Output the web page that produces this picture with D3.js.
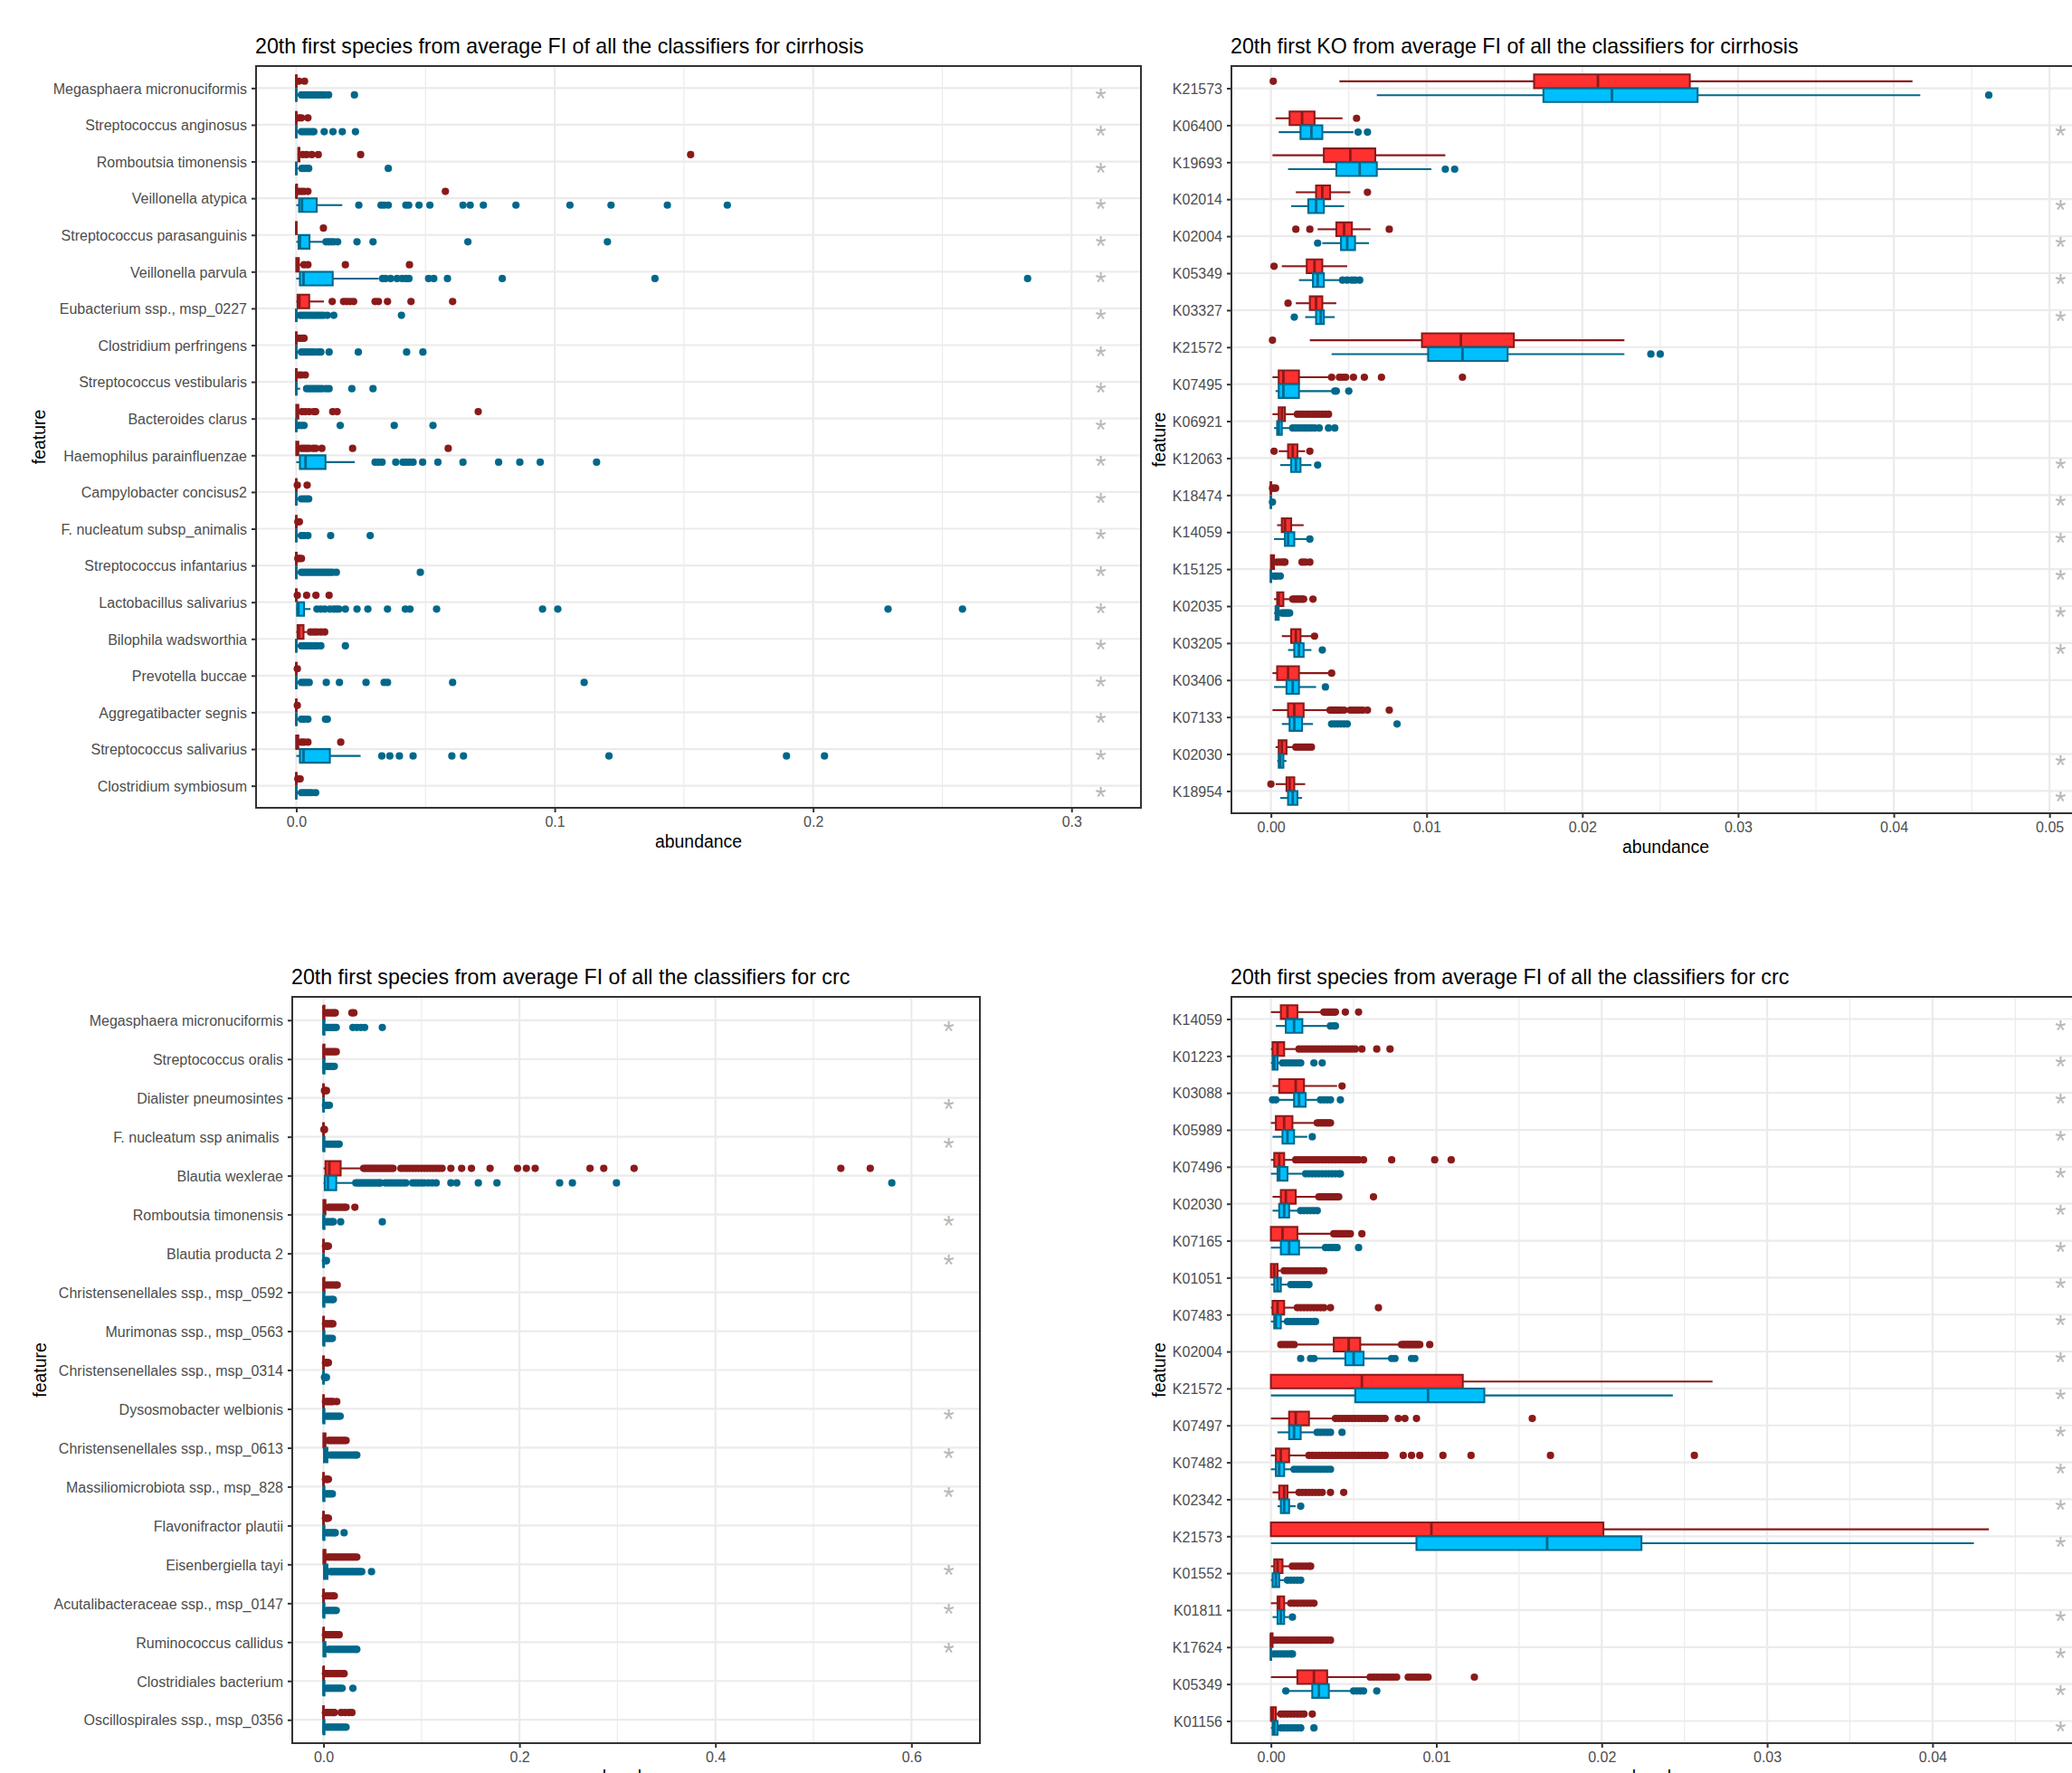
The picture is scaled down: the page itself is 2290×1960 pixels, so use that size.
<!DOCTYPE html>
<html>
<head>
<meta charset="utf-8">
<script src="https://cdn.jsdelivr.net/npm/d3@7"></script>
<style>
  body { margin: 0; background: #ffffff; }
  svg text { font-family: "Liberation Sans", Arial, Helvetica, sans-serif; }
</style>
</head>
<body>
<svg id="fig" width="2290" height="1960"></svg>
<script>
// Box statistics are [lower whisker, Q1, median, Q3, upper whisker];
// group A is drawn red (upper box), group B blue (lower box).

// ---- cirrhosis, species ----
const cirSpTitle = "20th first species from average FI of all the classifiers for cirrhosis";
const cirSpFeatures = ["Megasphaera micronuciformis","Streptococcus anginosus","Romboutsia timonensis","Veillonella atypica","Streptococcus parasanguinis","Veillonella parvula","Eubacterium ssp., msp_0227","Clostridium perfringens","Streptococcus vestibularis","Bacteroides clarus","Haemophilus parainfluenzae","Campylobacter concisus2","F. nucleatum subsp_animalis","Streptococcus infantarius","Lactobacillus salivarius","Bilophila wadsworthia","Prevotella buccae","Aggregatibacter segnis","Streptococcus salivarius","Clostridium symbiosum"];
const cirSpSig = [1,1,1,1,1,1,1,1,1,1,1,1,1,1,1,1,1,1,1,1];
const cirSpTicks = [0, 0.1, 0.2, 0.3];
const cirSpA = [
  [0,0,0,0,0.0005],[0,0,0,0,0.0005],[0.0005,0.0008,0.001,0.0012,0.0015],[0,0,0,0.0003,0.0005],[0,0,0,0,0],
  [0,0,0.0003,0.001,0.002],[0,0.0005,0.0012,0.005,0.0107],[0,0,0,0,0.0003],[0,0,0,0,0.0003],[0,0,0.0003,0.0008,0.0015],
  [0,0,0.0003,0.0008,0.0015],[0,0,0,0,0],[0,0,0,0,0],[0,0,0,0,0],[0,0,0,0,0],
  [0,0.0005,0.001,0.0028,0.004],[0,0,0,0,0],[0,0,0,0,0],[0,0,0.0002,0.0008,0.0015],[0,0,0,0,0]
];
const cirSpAOut = [
  [0.001,0.0032],
  [0.001,0.002,0.0045],
  [0.0025,0.004,0.006,0.0085,0.0249,0.1526],
  [0.001,0.002,0.003,0.0045,0.0577],
  [0.0105],
  [0.003,0.0045,0.019,0.0438],
  [0.0139,0.0183,0.0195,0.0208,0.0222,0.0305,0.0318,0.0353,0.0444,0.0605],
  [0.001,0.0022,0.003],
  [0.001,0.002,0.0035],
  [0.0022,0.0035,0.005,0.0068,0.0075,0.0141,0.0158,0.0704],
  [0.002,0.003,0.004,0.005,0.0065,0.0075,0.0099,0.0218,0.0588],
  [0.0004,0.0042],
  [0.0006,0.0012],
  [0.0006,0.0012,0.002],
  [0.0004,0.004,0.0076,0.0127],
  [0.0055,0.0068,0.008,0.0095,0.011],
  [0.0004],
  [0.0004],
  [0.002,0.003,0.0045,0.0172],
  [0.0006,0.0015]
];
const cirSpB = [
  [0,0,0,0,0.001],[0,0,0,0,0.001],[0,0,0,0,0.0008],[0,0.0011,0.0022,0.0079,0.0178],[0,0.0009,0.0014,0.0051,0.0107],
  [0,0.0014,0.0028,0.0141,0.0319],[0,0,0,0,0.001],[0,0,0,0,0.001],[0,0,0,0,0.0015],[0,0,0,0,0.0005],
  [0,0.0014,0.0036,0.0113,0.0226],[0,0,0,0,0.001],[0,0,0,0,0.001],[0,0,0,0,0.001],[0,0.0003,0.0008,0.003,0.0055],
  [0,0,0,0,0.0012],[0,0,0,0,0.001],[0,0,0,0,0.001],[0,0.0014,0.0028,0.013,0.0249],[0,0,0,0,0.001]
];
const cirSpBOut = [
  [0.002,0.003,0.004,0.005,0.006,0.007,0.008,0.009,0.01,0.011,0.0125,0.0225],
  [0.002,0.003,0.004,0.005,0.006,0.0068,0.0108,0.0142,0.0178,0.0229],
  [0.0022,0.003,0.004,0.0048,0.0356],
  [0.0242,0.0328,0.034,0.0356,0.0424,0.0435,0.0475,0.0517,0.0645,0.0673,0.0724,0.085,0.1059,0.1218,0.1436,0.1668],
  [0.0115,0.0125,0.0135,0.0145,0.016,0.0235,0.0297,0.0664,0.1204],
  [0.0334,0.0345,0.0365,0.039,0.041,0.0425,0.0436,0.0512,0.0532,0.0585,0.0797,0.1388,0.283],
  [0.0015,0.0025,0.0035,0.0045,0.0055,0.0065,0.0075,0.0085,0.0095,0.0105,0.012,0.0145,0.0407],
  [0.002,0.003,0.004,0.005,0.006,0.007,0.0085,0.0095,0.0127,0.024,0.0427,0.049],
  [0.004,0.005,0.006,0.007,0.008,0.009,0.01,0.0115,0.0127,0.0215,0.0297],
  [0.001,0.002,0.003,0.017,0.0379,0.0529],
  [0.0305,0.0318,0.0332,0.0385,0.0413,0.0425,0.0438,0.0452,0.0489,0.0548,0.0645,0.0783,0.0865,0.0944,0.1162],
  [0.002,0.003,0.004,0.0048],
  [0.002,0.003,0.0045,0.0133,0.0286],
  [0.002,0.003,0.004,0.005,0.006,0.007,0.008,0.009,0.01,0.011,0.012,0.013,0.014,0.0155,0.048],
  [0.008,0.0095,0.011,0.013,0.0145,0.0155,0.0165,0.019,0.0235,0.0277,0.0353,0.0422,0.044,0.0543,0.0953,0.1012,0.229,0.2578],
  [0.002,0.003,0.004,0.005,0.006,0.007,0.008,0.0095,0.019],
  [0.002,0.003,0.004,0.005,0.0116,0.0167,0.027,0.034,0.0353,0.0605,0.1114],
  [0.002,0.003,0.0045,0.0113,0.012],
  [0.0331,0.0362,0.0399,0.0452,0.0602,0.0647,0.121,0.1897,0.2044],
  [0.002,0.003,0.004,0.005,0.006,0.0075]
];

// ---- cirrhosis, KO ----
const cirKoTitle = "20th first KO from average FI of all the classifiers for cirrhosis";
const cirKoFeatures = ["K21573","K06400","K19693","K02014","K02004","K05349","K03327","K21572","K07495","K06921","K12063","K18474","K14059","K15125","K02035","K03205","K03406","K07133","K02030","K18954"];
const cirKoSig = [0,1,0,1,1,1,1,0,0,0,1,1,1,1,1,1,0,0,1,1];
const cirKoTicks = [0, 0.01, 0.02, 0.03, 0.04, 0.05];
const cirKoA = [
  [0.0044,0.0169,0.021,0.0269,0.0412],[0.0003,0.0012,0.002,0.0028,0.0046],[0.0001,0.0034,0.0051,0.0067,0.0112],
  [0.0016,0.0029,0.0033,0.0038,0.0051],[0.003,0.0042,0.0047,0.0052,0.0064],[0.0007,0.0023,0.0028,0.0033,0.0049],
  [0.0016,0.0025,0.0029,0.0033,0.0042],[0.0025,0.0097,0.0122,0.0156,0.0227],[0.0001,0.0005,0.0008,0.0018,0.0038],
  [0.0001,0.0005,0.0007,0.0009,0.0016],[0.0005,0.0011,0.0014,0.0017,0.0022],[0,0,0,0,0],
  [0.0004,0.0007,0.0009,0.0013,0.0021],[0,0,0.0001,0.0002,0.0003],[0.0002,0.0004,0.0005,0.0008,0.0013],
  [0.0007,0.0013,0.0016,0.0019,0.0026],[0.0001,0.0004,0.0011,0.0018,0.0037],[0.0001,0.0011,0.0015,0.0021,0.0037],
  [0.0003,0.0005,0.0007,0.001,0.0015],[0.0003,0.001,0.0012,0.0015,0.0022]
];
const cirKoAOut = [
  [0.00015],[0.0055],[],[0.0062],[0.0016,0.0025,0.0076],[0.0002],[0.0011],[0.0001],
  [0.0039,0.0044,0.0046,0.0048,0.0053,0.006,0.0071,0.0123],
  [0.0017,0.0019,0.0021,0.0023,0.0025,0.0027,0.0029,0.0031,0.0033,0.0035,0.0037],
  [0.0002,0.0025],[0.0001,0.0002,0.0003],[],
  [0.0004,0.0006,0.0008,0.0009,0.002,0.0022,0.0025],
  [0.0014,0.0015,0.0016,0.0017,0.0018,0.0019,0.002,0.0021,0.0027],
  [0.0028],[0.0039],
  [0.0038,0.0039,0.004,0.0041,0.0042,0.0043,0.0044,0.0045,0.0047,0.0051,0.0053,0.0055,0.0057,0.0059,0.0062,0.0076],
  [0.0016,0.0018,0.002,0.0022,0.0024,0.0026],
  [0]
];
const cirKoB = [
  [0.0068,0.0175,0.0219,0.0274,0.0417],[0.0005,0.0019,0.0026,0.0033,0.0053],[0.0011,0.0042,0.0057,0.0068,0.0103],
  [0.0013,0.0024,0.0029,0.0034,0.0047],[0.0033,0.0045,0.0049,0.0054,0.0063],[0.0018,0.0027,0.003,0.0034,0.0044],
  [0.0022,0.0029,0.0032,0.0034,0.0041],[0.0039,0.0101,0.0123,0.0152,0.0227],[0.0003,0.0005,0.0008,0.0018,0.0039],
  [0.0002,0.0004,0.0005,0.0007,0.0012],[0.0006,0.0013,0.0016,0.0019,0.0026],[0,0,0,0,0],
  [0.0002,0.0009,0.0011,0.0015,0.0023],[0,0,0,0,0.0001],[0.0002,0.0003,0.0004,0.0005,0.0006],
  [0.0011,0.0015,0.0018,0.0021,0.0026],[0.0002,0.001,0.0014,0.0018,0.0029],[0.0007,0.0012,0.0015,0.002,0.0027],
  [0.0004,0.0005,0.0006,0.0008,0.001],[0.0006,0.0011,0.0014,0.0017,0.002]
];
const cirKoBOut = [
  [0.0461],[0.0056,0.0062],[0.0112,0.0118],[],[0.003],[0.0046,0.0049,0.0052,0.0054,0.0057],[0.0015],[0.0244,0.025],
  [0.0041,0.0042,0.005],
  [0.0014,0.0016,0.0018,0.002,0.0022,0.0024,0.0026,0.0028,0.0031,0.0037,0.0041],
  [0.003],[0.0001],[0.0025],[0.0002,0.0003,0.0004,0.0006],
  [0.0007,0.0008,0.0009,0.001,0.0011,0.0012],
  [0.0033],[0.0035],[0.0039,0.0041,0.0043,0.0045,0.0047,0.0049,0.0081],[],[]
];

// ---- crc, species ----
const crcSpTitle = "20th first species from average FI of all the classifiers for crc";
const crcSpFeatures = ["Megasphaera micronuciformis","Streptococcus oralis","Dialister pneumosintes","F. nucleatum ssp animalis ","Blautia wexlerae","Romboutsia timonensis","Blautia producta 2","Christensenellales ssp., msp_0592","Murimonas ssp., msp_0563","Christensenellales ssp., msp_0314","Dysosmobacter welbionis","Christensenellales ssp., msp_0613","Massiliomicrobiota ssp., msp_828","Flavonifractor plautii","Eisenbergiella tayi","Acutalibacteraceae ssp., msp_0147","Ruminococcus callidus","Clostridiales bacterium","Oscillospirales ssp., msp_0356"];
const crcSpSig = [1,0,1,1,0,1,1,0,0,0,1,1,1,0,1,1,1,0,0];
const crcSpTicks = [0, 0.2, 0.4, 0.6];
const crcSpA = [
  [0,0,0,0.001,0.002],[0,0,0,0.001,0.002],[0,0,0,0,0.0005],[0,0,0,0,0],[0,0.002,0.006,0.0175,0.039],
  [0,0,0.0005,0.002,0.004],[0,0,0,0,0.001],[0,0,0,0.001,0.002],[0,0,0,0.0005,0.0015],[0,0,0,0,0.001],
  [0,0,0,0,0.001],[0,0,0.0005,0.002,0.004],[0,0,0,0,0.001],[0,0,0,0,0.001],[0,0,0.0005,0.002,0.003],
  [0,0,0,0,0.001],[0,0,0,0.0005,0.0015],[0,0,0,0.0005,0.0015],[0,0,0,0,0.001]
];
const crcSpAOut = [
  [0.003,0.005,0.007,0.009,0.011,0.012,0.029,0.031],
  [0.003,0.005,0.007,0.009,0.011,0.013],
  [0.001,0.002,0.003],
  [0.0005,0.001],
  [0.041,0.043,0.045,0.047,0.049,0.051,0.053,0.055,0.057,0.059,0.061,0.063,0.065,0.067,0.069,0.071,
   0.079,0.082,0.085,0.088,0.091,0.094,0.097,0.1,0.103,0.106,0.109,0.112,0.115,0.118,0.121,
   0.13,0.141,0.151,0.17,0.198,0.207,0.216,0.272,0.286,0.317,0.528,0.558],
  [0.005,0.007,0.009,0.011,0.013,0.015,0.017,0.019,0.021,0.023,0.032],
  [0.002,0.003,0.004,0.005],
  [0.003,0.005,0.007,0.009,0.011,0.013,0.014],
  [0.002,0.004,0.006,0.008,0.0095],
  [0.002,0.003,0.004,0.005],
  [0.002,0.004,0.006,0.008,0.0095,0.0135],
  [0.005,0.007,0.009,0.011,0.013,0.015,0.017,0.019,0.021,0.023],
  [0.002,0.003,0.004,0.005],
  [0.002,0.003,0.004,0.005],
  [0.004,0.006,0.008,0.01,0.012,0.014,0.016,0.018,0.02,0.022,0.024,0.026,0.028,0.03,0.032,0.034],
  [0.002,0.004,0.006,0.008,0.01,0.011],
  [0.002,0.004,0.006,0.008,0.01,0.012,0.014,0.016],
  [0.002,0.004,0.006,0.008,0.01,0.012,0.014,0.016,0.018,0.02,0.021],
  [0.002,0.004,0.006,0.008,0.01,0.011,0.018,0.022,0.026,0.029]
];
const crcSpB = [
  [0,0,0,0.001,0.002],[0,0,0,0.001,0.002],[0,0,0,0,0.001],[0,0,0,0.001,0.002],[0,0.0013,0.0045,0.013,0.031],
  [0,0,0,0.001,0.002],[0,0,0,0,0.001],[0,0,0,0.001,0.002],[0,0,0,0.001,0.002],[0,0,0,0,0.0005],
  [0,0,0,0.001,0.002],[0,0.0005,0.002,0.004,0.006],[0,0,0,0.001,0.002],[0,0,0,0.001,0.002],[0,0.0005,0.002,0.004,0.006],
  [0,0,0,0.001,0.002],[0,0,0.0005,0.002,0.004],[0,0,0,0.001,0.002],[0,0,0,0.001,0.002]
];
const crcSpBOut = [
  [0.003,0.005,0.007,0.009,0.011,0.013,0.03,0.034,0.038,0.042,0.06],
  [0.003,0.005,0.007,0.009,0.011],
  [0.002,0.004,0.006],
  [0.003,0.005,0.007,0.009,0.011,0.013,0.015,0.016],
  [0.033,0.035,0.037,0.039,0.041,0.043,0.045,0.047,0.049,0.051,0.053,0.055,0.057,0.058,
   0.063,0.066,0.069,0.072,0.075,0.078,0.081,0.084,0.091,0.094,0.097,0.1,0.103,0.107,0.111,0.115,
   0.13,0.136,0.158,0.177,0.241,0.254,0.299,0.58],
  [0.003,0.005,0.007,0.009,0.01,0.0175,0.06],
  [0.002,0.003],
  [0.003,0.005,0.007,0.009,0.01],
  [0.003,0.005,0.007,0.009],
  [0.001,0.002,0.003],
  [0.003,0.005,0.007,0.009,0.011,0.013,0.015,0.017],
  [0.007,0.009,0.011,0.013,0.015,0.017,0.019,0.021,0.023,0.025,0.027,0.029,0.031,0.033,0.034],
  [0.003,0.005,0.007,0.009],
  [0.003,0.005,0.007,0.009,0.011,0.012,0.021],
  [0.007,0.009,0.011,0.013,0.015,0.017,0.019,0.021,0.023,0.025,0.027,0.029,0.031,0.033,0.035,0.037,0.039,0.049],
  [0.003,0.005,0.007,0.009,0.011,0.013],
  [0.005,0.007,0.009,0.011,0.013,0.015,0.017,0.019,0.021,0.023,0.025,0.027,0.029,0.031,0.033,0.034],
  [0.003,0.005,0.007,0.009,0.011,0.013,0.015,0.017,0.019,0.03],
  [0.003,0.005,0.007,0.009,0.011,0.013,0.015,0.017,0.019,0.021,0.023]
];

// ---- crc, KO ----
const crcKoTitle = "20th first species from average FI of all the classifiers for crc";
const crcKoFeatures = ["K14059","K01223","K03088","K05989","K07496","K02030","K07165","K01051","K07483","K02004","K21572","K07497","K07482","K02342","K21573","K01552","K01811","K17624","K05349","K01156"];
const crcKoSig = [1,1,1,1,1,1,1,1,1,1,1,1,1,1,1,0,1,1,1,1];
const crcKoTicks = [0, 0.01, 0.02, 0.03, 0.04];
const crcKoA = [
  [0,0.0006,0.001,0.0016,0.0031],[0,0.0001,0.0004,0.0008,0.0015],[0.0001,0.0005,0.0015,0.002,0.004],
  [0,0.0003,0.0008,0.0013,0.0027],[0,0.0002,0.0005,0.0008,0.0014],[0.0001,0.0006,0.0009,0.0015,0.0028],
  [0,0,0.0007,0.0016,0.0037],[0,0,0.0002,0.0004,0.0006],[0,0.0001,0.0004,0.0008,0.0015],
  [0.0015,0.0038,0.0047,0.0054,0.0078],[0,0,0.0055,0.0116,0.0267],[0,0.0011,0.0015,0.0023,0.0038],
  [0,0.0003,0.0006,0.0011,0.0022],[0.0001,0.0005,0.0008,0.001,0.0016],[0,0,0.0097,0.0201,0.0434],
  [0,0.0002,0.0004,0.0007,0.0012],[0,0.0004,0.0005,0.0008,0.0011],[0,0,0,0.0001,0.0001],
  [0,0.0016,0.0026,0.0034,0.0059],[0,0,0.0001,0.0003,0.0004]
];
const crcKoAOut = [
  [0.0032,0.0033,0.0034,0.0035,0.0036,0.0037,0.0038,0.0039,0.0045,0.0053],
  [0.0017,0.0019,0.0021,0.0023,0.0025,0.0027,0.0029,0.0031,0.0033,0.0035,0.0037,0.0039,0.0041,0.0043,0.0045,0.0047,0.0049,0.0051,0.0055,0.0064,0.0072],
  [0.0043],
  [0.0028,0.0029,0.003,0.0031,0.0032,0.0033,0.0034,0.0035,0.0036],
  [0.0015,0.0017,0.0019,0.0021,0.0023,0.0025,0.0027,0.0029,0.0031,0.0033,0.0035,0.0037,0.0039,0.0041,0.0043,0.0045,0.0047,0.0049,0.0051,0.0053,0.0056,0.0073,0.0099,0.0109],
  [0.0029,0.003,0.0031,0.0032,0.0033,0.0034,0.0035,0.0036,0.0037,0.0038,0.0039,0.004,0.0041,0.0062],
  [0.0038,0.0039,0.004,0.0041,0.0042,0.0043,0.0044,0.0045,0.0046,0.0047,0.0048,0.0055],
  [0.0008,0.001,0.0012,0.0014,0.0016,0.0018,0.002,0.0022,0.0024,0.0026,0.0028,0.003,0.0032],
  [0.0016,0.0018,0.002,0.0022,0.0024,0.0026,0.0028,0.003,0.0032,0.0036,0.0065],
  [0.0006,0.0008,0.001,0.0012,0.0014,0.0079,0.008,0.0081,0.0082,0.0083,0.0084,0.0085,0.0086,0.0087,0.0088,0.0089,0.009,0.0096],
  [],
  [0.0039,0.0041,0.0043,0.0045,0.0047,0.0049,0.0051,0.0053,0.0055,0.0057,0.0059,0.0061,0.0063,0.0065,0.0067,0.0069,0.0077,0.0081,0.0088,0.0158],
  [0.0023,0.0025,0.0027,0.0029,0.0031,0.0033,0.0035,0.0037,0.0039,0.0041,0.0043,0.0045,0.0047,0.0049,0.0051,0.0053,0.0055,0.0057,0.0059,0.0061,0.0063,0.0065,0.0067,0.0069,0.008,0.0085,0.009,0.0104,0.0121,0.0169,0.0256],
  [0.0017,0.0019,0.0021,0.0023,0.0025,0.0027,0.0029,0.0031,0.0036,0.0044],
  [],
  [0.0013,0.0015,0.0017,0.0019,0.0021,0.0023,0.0024],
  [0.0012,0.0014,0.0016,0.0018,0.002,0.0022,0.0024,0.0026],
  [0.0002,0.0004,0.0006,0.0008,0.001,0.0012,0.0014,0.0016,0.0018,0.002,0.0022,0.0024,0.0026,0.0028,0.003,0.0032,0.0034,0.0036],
  [0.006,0.0062,0.0064,0.0066,0.0068,0.007,0.0072,0.0074,0.0076,0.0083,0.0085,0.0087,0.0089,0.0091,0.0093,0.0095,0.0123],
  [0.0006,0.0008,0.001,0.0012,0.0014,0.0016,0.0018,0.002,0.0025]
];
const crcKoB = [
  [0.0003,0.0009,0.0014,0.0019,0.0035],[0,0.0001,0.0002,0.0004,0.0006],[0.0005,0.0014,0.0017,0.0021,0.0029],
  [0.0001,0.0007,0.001,0.0014,0.0022],[0,0.0004,0.0005,0.001,0.002],[0.0001,0.0005,0.0008,0.0011,0.0017],
  [0,0.0006,0.0011,0.0017,0.0031],[0,0.0002,0.0004,0.0006,0.001],[0,0.0002,0.0003,0.0006,0.0009],
  [0.0028,0.0045,0.005,0.0056,0.0072],[0,0.0051,0.0095,0.0129,0.0243],[0.0004,0.0011,0.0014,0.0018,0.0027],
  [0,0.0003,0.0005,0.0008,0.0013],[0.0004,0.0006,0.0008,0.0011,0.0015],[0,0.0088,0.0167,0.0224,0.0425],
  [0,0.0001,0.0003,0.0005,0.0009],[0.0001,0.0004,0.0006,0.0008,0.0011],[0,0,0,0,0.0001],
  [0.0011,0.0025,0.0029,0.0035,0.0049],[0,0.0001,0.0002,0.0004,0.0005]
];
const crcKoBOut = [
  [0.0036,0.0038,0.0039],
  [0.0007,0.0009,0.0011,0.0013,0.0015,0.0017,0.0018,0.0026,0.0031],
  [0.0001,0.0003,0.003,0.0032,0.0034,0.0036,0.0042],
  [0.0025],
  [0.0021,0.0023,0.0025,0.0027,0.0029,0.0031,0.0033,0.0035,0.0037,0.0039,0.0041,0.0042],
  [0.0018,0.002,0.0022,0.0024,0.0026,0.0028],
  [0.0033,0.0035,0.0037,0.0039,0.004,0.0053],
  [0.0012,0.0014,0.0016,0.0018,0.002,0.0022,0.0023],
  [0.001,0.0012,0.0014,0.0016,0.0018,0.002,0.0022,0.0024,0.0026,0.0027],
  [0.0018,0.0024,0.0026,0.0073,0.0075,0.0085,0.0087],
  [],
  [0.0028,0.003,0.0032,0.0034,0.0036,0.0043],
  [0.0014,0.0016,0.0018,0.002,0.0022,0.0024,0.0026,0.0028,0.003,0.0032,0.0034,0.0036],
  [0.0018],
  [],
  [0.001,0.0012,0.0014,0.0016,0.0018],
  [0.0013],
  [0.0002,0.0004,0.0006,0.0008,0.001,0.0012,0.0013],
  [0.0009,0.005,0.0052,0.0054,0.0056,0.0064],
  [0.0006,0.0008,0.001,0.0012,0.0014,0.0016,0.0018,0.0026]
];

// ---- layout and styling ----
const panels = [
  { title: cirSpTitle, features: cirSpFeatures, sig: cirSpSig, ticks: cirSpTicks, fmt: ".1f",
    a: cirSpA, aOut: cirSpAOut, b: cirSpB, bOut: cirSpBOut,
    frame: { left: 283, right: 1261, top: 73, bottom: 893 }, yTitleX: 43.5 },
  { title: cirKoTitle, features: cirKoFeatures, sig: cirKoSig, ticks: cirKoTicks, fmt: ".2f",
    a: cirKoA, aOut: cirKoAOut, b: cirKoB, bOut: cirKoBOut,
    frame: { left: 1361, right: 2321, top: 73, bottom: 899 }, yTitleX: 1281 },
  { title: crcSpTitle, features: crcSpFeatures, sig: crcSpSig, ticks: crcSpTicks, fmt: ".1f",
    a: crcSpA, aOut: crcSpAOut, b: crcSpB, bOut: crcSpBOut,
    frame: { left: 323, right: 1083, top: 1102, bottom: 1927 }, yTitleX: 44.5 },
  { title: crcKoTitle, features: crcKoFeatures, sig: crcKoSig, ticks: crcKoTicks, fmt: ".2f",
    a: crcKoA, aOut: crcKoAOut, b: crcKoB, bOut: crcKoBOut,
    frame: { left: 1361, right: 2321, top: 1102, bottom: 1927 }, yTitleX: 1281 }
];

const style = {
  aFill: "#FF3030", aLine: "#8B1A1A",
  bFill: "#00BFFF", bLine: "#00688B",
  grid: "#EBEBEB", border: "#333333", tickText: "#4D4D4D", star: "#B8B8B8",
  tickFont: 16, titleFont: 23.2, axisTitleFont: 19.4, starFont: 31,
  pointR: 4.1, boxStroke: 2.1, medianStroke: 2.8
};

const svg = d3.select("#fig");
svg.append("rect").attr("width", 2290).attr("height", 1960).attr("fill", "#ffffff");

panels.forEach((p, pi) => drawPanel(p, pi));

function drawPanel(p, pi) {
  const f = p.frame;
  const g = svg.append("g").attr("class", "panel");

  const allValues = [p.a, p.b, p.aOut, p.bOut].flat(2);
  const starAt = d3.max(allValues) * 1.1;   // significance marks sit just past the largest value

  const x = d3.scaleLinear()
    .domain([-0.05 * starAt, 1.05 * starAt])
    .range([f.left, f.right]);
  const y = d3.scalePoint()
    .domain(p.features)
    .range([f.top, f.bottom])
    .padding(0.6);
  const step = y.step();
  const boxH = 0.37 * step;
  const dodge = 0.1875 * step;

  const clipId = "clip" + pi;
  g.append("clipPath").attr("id", clipId)
    .append("rect")
    .attr("x", f.left).attr("y", f.top)
    .attr("width", f.right - f.left).attr("height", f.bottom - f.top);

  const plot = g.append("g").attr("clip-path", `url(#${clipId})`);

  // grid: minor breaks halfway between major breaks
  const [d0, d1] = x.domain();
  const stepT = p.ticks[1] - p.ticks[0];
  const minors = [p.ticks[0] - stepT / 2, ...p.ticks.map(t => t + stepT / 2)]
    .filter(v => v >= d0 && v <= d1);

  plot.selectAll("line.minor").data(minors).join("line")
    .attr("class", "minor")
    .attr("x1", d => x(d)).attr("x2", d => x(d))
    .attr("y1", f.top).attr("y2", f.bottom)
    .attr("stroke", style.grid).attr("stroke-width", 1.2);

  plot.selectAll("line.majorx").data(p.ticks).join("line")
    .attr("class", "majorx")
    .attr("x1", d => x(d)).attr("x2", d => x(d))
    .attr("y1", f.top).attr("y2", f.bottom)
    .attr("stroke", style.grid).attr("stroke-width", 2.2);

  plot.selectAll("line.majory").data(p.features).join("line")
    .attr("class", "majory")
    .attr("x1", f.left).attr("x2", f.right)
    .attr("y1", d => y(d)).attr("y2", d => y(d))
    .attr("stroke", style.grid).attr("stroke-width", 2.2);

  // one record per box: group A above the category line, group B below
  const boxes = [];
  p.features.forEach((feat, i) => {
    boxes.push({ feat, s: p.a[i], out: p.aOut[i], cy: y(feat) - dodge, fill: style.aFill, line: style.aLine });
    boxes.push({ feat, s: p.b[i], out: p.bOut[i], cy: y(feat) + dodge, fill: style.bFill, line: style.bLine });
  });

  const bg = plot.selectAll("g.box").data(boxes).join("g").attr("class", "box");

  // outliers
  bg.selectAll("circle").data(d => d.out.map(v => ({ v, cy: d.cy, c: d.line }))).join("circle")
    .attr("cx", d => x(d.v)).attr("cy", d => d.cy)
    .attr("r", style.pointR).attr("fill", d => d.c);

  // whiskers
  bg.append("line")
    .attr("x1", d => x(d.s[0])).attr("x2", d => x(d.s[1]))
    .attr("y1", d => d.cy).attr("y2", d => d.cy)
    .attr("stroke", d => d.line).attr("stroke-width", style.boxStroke);
  bg.append("line")
    .attr("x1", d => x(d.s[3])).attr("x2", d => x(d.s[4]))
    .attr("y1", d => d.cy).attr("y2", d => d.cy)
    .attr("stroke", d => d.line).attr("stroke-width", style.boxStroke);

  // interquartile box (as a path so zero-width boxes still show their outline)
  bg.append("path")
    .attr("d", d => {
      const x1 = x(d.s[1]), x2 = x(d.s[3]), y1 = d.cy - boxH / 2, y2 = d.cy + boxH / 2;
      return `M${x1},${y1}H${x2}V${y2}H${x1}Z`;
    })
    .attr("fill", d => d.fill).attr("stroke", d => d.line).attr("stroke-width", style.boxStroke);

  // median
  bg.append("line")
    .attr("x1", d => x(d.s[2])).attr("x2", d => x(d.s[2]))
    .attr("y1", d => d.cy - boxH / 2).attr("y2", d => d.cy + boxH / 2)
    .attr("stroke", d => d.line).attr("stroke-width", style.medianStroke);

  // significance marks
  plot.selectAll("text.star").data(p.features.filter((feat, i) => p.sig[i])).join("text")
    .attr("class", "star")
    .attr("x", x(starAt))
    .attr("y", d => y(d) + 23)
    .attr("text-anchor", "middle")
    .attr("font-size", style.starFont)
    .attr("fill", style.star)
    .text("*");

  // panel border
  g.append("rect")
    .attr("x", f.left).attr("y", f.top)
    .attr("width", f.right - f.left).attr("height", f.bottom - f.top)
    .attr("fill", "none").attr("stroke", style.border).attr("stroke-width", 2);

  // axes
  const xAxis = d3.axisBottom(x).tickValues(p.ticks).tickFormat(d3.format(p.fmt))
    .tickSize(5).tickPadding(5);
  const yAxis = d3.axisLeft(y).tickSize(5).tickPadding(5);

  const gx = g.append("g").attr("transform", `translate(0,${f.bottom})`).call(xAxis);
  const gy = g.append("g").attr("transform", `translate(${f.left},0)`).call(yAxis);
  [gx, gy].forEach(ax => {
    ax.select(".domain").remove();
    ax.selectAll(".tick line").attr("stroke", style.border).attr("stroke-width", 2);
    ax.selectAll(".tick text")
      .attr("fill", style.tickText)
      .attr("font-size", style.tickFont)
      .attr("font-family", '"Liberation Sans", Arial, sans-serif')
      .style("white-space", "pre");
  });
  gy.selectAll(".tick text").attr("dy", "0.36em");

  // titles
  g.append("text")
    .attr("x", f.left - 1).attr("y", f.top - 14.5)
    .attr("font-size", style.titleFont).attr("fill", "#000")
    .text(p.title);

  g.append("text")
    .attr("x", (f.left + f.right) / 2).attr("y", f.bottom + 44)
    .attr("text-anchor", "middle")
    .attr("font-size", style.axisTitleFont).attr("fill", "#000")
    .text("abundance");

  g.append("text")
    .attr("transform", `translate(${p.yTitleX},${(f.top + f.bottom) / 2}) rotate(-90)`)
    .attr("dy", "0.35em")
    .attr("text-anchor", "middle")
    .attr("font-size", style.axisTitleFont).attr("fill", "#000")
    .text("feature");
}
</script>
</body>
</html>
